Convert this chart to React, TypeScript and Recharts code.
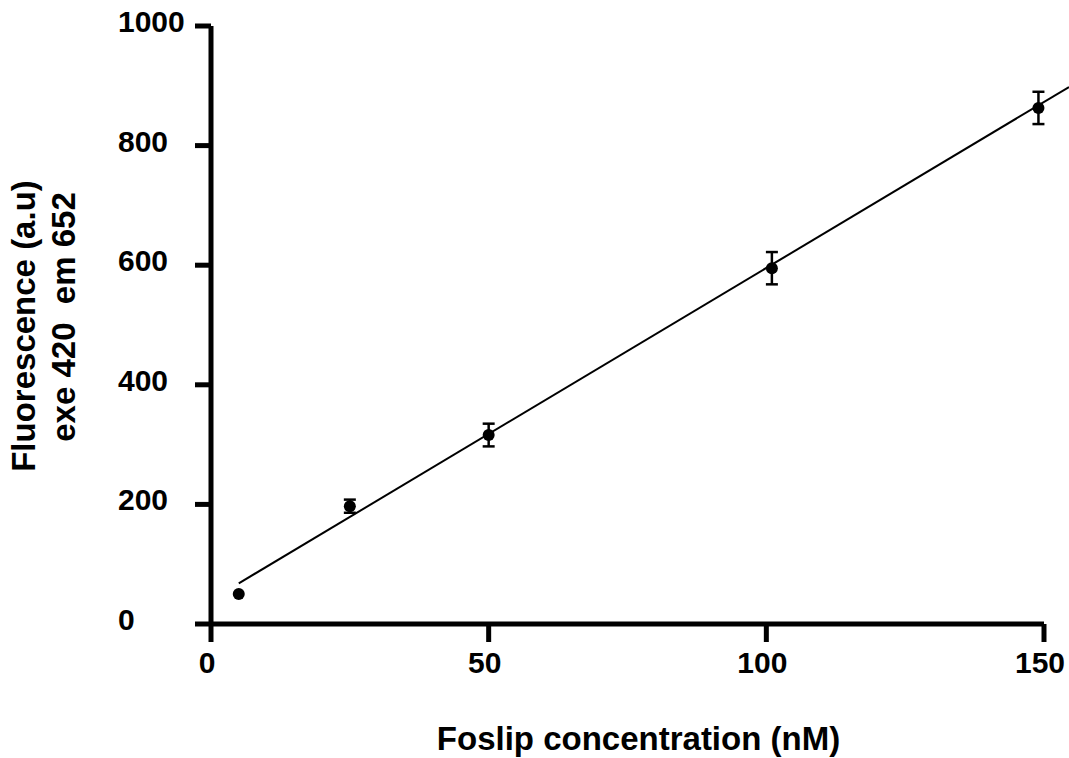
import React from 'react';
import { ScatterChart, Scatter, XAxis, YAxis, ErrorBar, ReferenceLine, Label } from 'recharts';

// Foslip calibration readings
const concentration = [5, 25, 50, 101, 149];
const fluorescence = [50, 197, 316, 595, 863];
const sem = [null, 11, 19, 27, 27];

// linear fit drawn past the last tick, as in the figure
const fitX = [5, 154.5];
const fitY = [68, 898];

const xTicks = [0, 50, 100, 150];
const yTicks = [0, 200, 400, 600, 800, 1000];

const FONT = '"Liberation Sans", Arial, Helvetica, sans-serif';

const points = concentration.map((c, i) => ({ x: c, y: fluorescence[i], err: sem[i] }));

const YTick = (props: any) => {
    const { y, payload } = props;
    return (
        <text x={118} y={y + 6} textAnchor="start" fill="#000" fontSize={30} fontWeight="bold" fontFamily={FONT}>
            {payload.value}
        </text>
    );
};

const XTick = (props: any) => {
    const { x, y, payload } = props;
    return (
        <text x={x - 4} y={y} dy="0.71em" textAnchor="middle" fill="#000" fontSize={30} fontWeight="bold" fontFamily={FONT}>
            {payload.value}
        </text>
    );
};

const Dot = (props: any) => <circle cx={props.cx} cy={props.cy} r={6} fill="#000" />;

export default function App() {
    // absolute so the body margin doesn't push a scrollbar in
    return (
        <div style={{ position: 'absolute', top: 0, left: 0, width: 1069, height: 758, background: '#fff' }}>
            <ScatterChart width={1069} height={758} margin={{ top: 26, right: 25, bottom: 0, left: 0 }}>
                <XAxis
                    type="number"
                    dataKey="x"
                    domain={[0, 150]}
                    ticks={xTicks}
                    height={134}
                    tickSize={18}
                    tickMargin={10}
                    axisLine={{ stroke: '#000', strokeWidth: 5 }}
                    tickLine={{ stroke: '#000', strokeWidth: 5 }}
                    tick={<XTick />}
                >
                    <Label
                        content={(p: any) => {
                            const vb = p.viewBox;
                            return (
                                <text
                                    x={vb.x + vb.width / 2 + 11}
                                    y={vb.y + 126}
                                    textAnchor="middle"
                                    fill="#000"
                                    fontSize={33}
                                    fontWeight="bold"
                                    fontFamily={FONT}
                                >
                                    Foslip concentration (nM)
                                </text>
                            );
                        }}
                    />
                </XAxis>
                <YAxis
                    type="number"
                    dataKey="y"
                    domain={[0, 1000]}
                    ticks={yTicks}
                    width={211}
                    tickSize={16}
                    axisLine={{ stroke: '#000', strokeWidth: 5 }}
                    tickLine={{ stroke: '#000', strokeWidth: 5 }}
                    tick={<YTick />}
                >
                    <Label
                        content={(p: any) => {
                            const vb = p.viewBox;
                            const cy = vb.y + vb.height / 2;
                            return (
                                <g fill="#000" fontSize={33} fontWeight="bold" fontFamily={FONT}>
                                    <text x={35} y={cy + 1} textAnchor="middle" transform={`rotate(-90 35 ${cy + 1})`}>
                                        Fluorescence (a.u)
                                    </text>
                                    <text
                                        x={75}
                                        y={cy - 8}
                                        textAnchor="middle"
                                        transform={`rotate(-90 75 ${cy - 8})`}
                                        style={{ whiteSpace: 'pre' }}
                                    >
                                        {'exe 420  em 652'}
                                    </text>
                                </g>
                            );
                        }}
                    />
                </YAxis>
                <ReferenceLine
                    segment={[
                        { x: fitX[0], y: fitY[0] },
                        { x: fitX[1], y: fitY[1] },
                    ]}
                    ifOverflow="visible"
                    stroke="#000"
                    strokeWidth={2}
                />
                <Scatter data={points} shape={<Dot />} isAnimationActive={false}>
                    <ErrorBar dataKey="err" direction="y" width={6} stroke="#000" strokeWidth={2.5} />
                </Scatter>
            </ScatterChart>
        </div>
    );
}
